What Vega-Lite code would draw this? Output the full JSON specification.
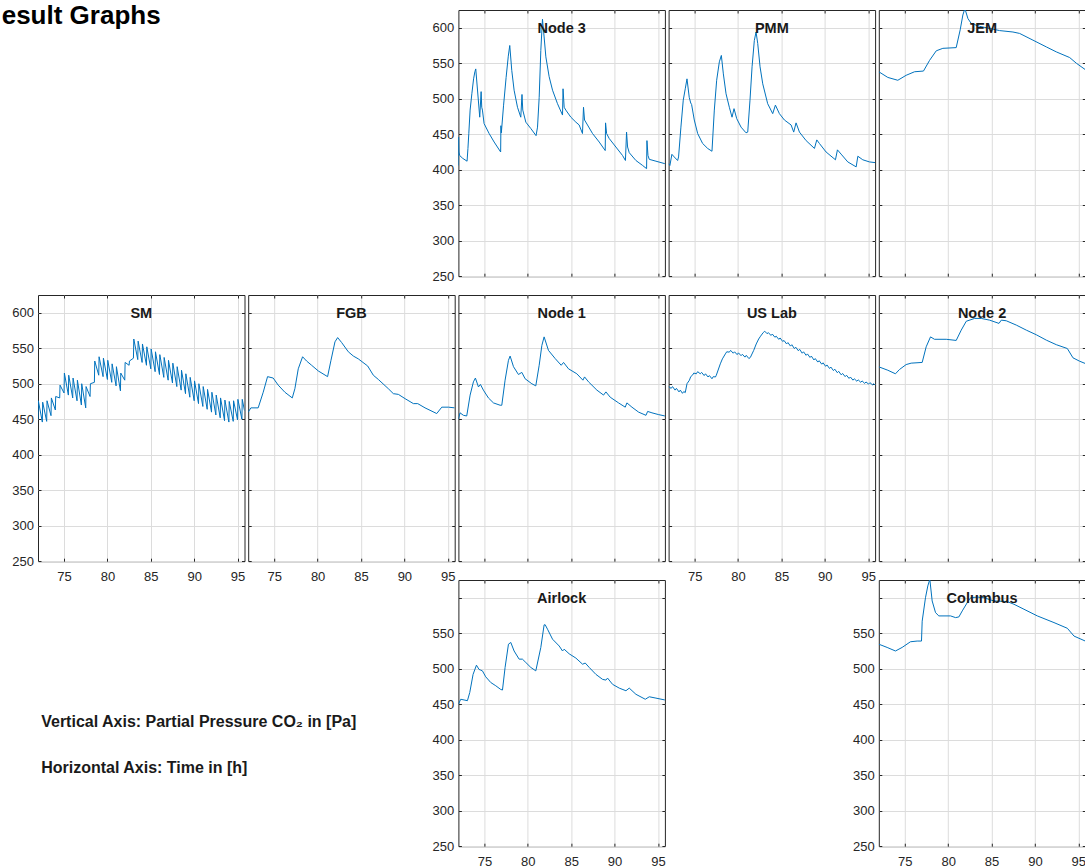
{
"$schema": "https://vega.github.io/schema/vega-lite/v6.json",
"padding": {"left": 1, "top": 2, "right": 0, "bottom": 0},
"config": {
  "font": "Liberation Sans",
  "view": {"stroke": null},
  "axis": {"grid": true, "gridColor": "#dcdcdc", "gridWidth": 1, "domain": false, "tickSize": -3, "tickColor": "#262626", "tickWidth": 1, "labelColor": "#262626", "labelFontSize": 13, "labelFont": "Liberation Sans", "labelFlush": false, "labelOverlap": false, "title": null},
  "axisX": {"labelPadding": 11.8},
  "axisY": {"labelPadding": 7.6},
  "title": {"font": "Liberation Sans", "fontSize": 14.5, "fontWeight": "bold", "color": "#1a1a1a", "anchor": "middle", "frame": "group", "baseline": "alphabetic", "offset": -27},
  "line": {"color": "#0072BD", "strokeWidth": 1}
},
"datasets": {
  "node3": [{"t":72.0,"p":406},{"t":72.02,"p":446},{"t":72.06,"p":425},{"t":72.15,"p":420},{"t":72.5,"p":416},{"t":73.0,"p":412},{"t":73.1,"p":430},{"t":73.2,"p":451},{"t":73.35,"p":484},{"t":73.55,"p":507},{"t":73.75,"p":528},{"t":73.9,"p":538},{"t":74.0,"p":542},{"t":74.46,"p":474},{"t":74.62,"p":510},{"t":74.69,"p":488},{"t":74.77,"p":484},{"t":74.96,"p":465},{"t":75.54,"p":451},{"t":76.12,"p":439},{"t":76.87,"p":425},{"t":76.9,"p":462},{"t":76.95,"p":452},{"t":77.2,"p":490},{"t":77.5,"p":530},{"t":77.75,"p":560},{"t":77.92,"p":575},{"t":78.15,"p":540},{"t":78.42,"p":512},{"t":78.81,"p":488},{"t":79.19,"p":474},{"t":79.33,"p":506},{"t":79.42,"p":484},{"t":79.77,"p":467},{"t":80.35,"p":458},{"t":80.95,"p":448},{"t":81.12,"p":460},{"t":81.31,"p":502},{"t":81.5,"p":568},{"t":81.69,"p":612},{"t":81.88,"p":587},{"t":82.08,"p":559},{"t":82.46,"p":531},{"t":82.85,"p":512},{"t":83.42,"p":493},{"t":84.0,"p":477},{"t":84.06,"p":514},{"t":84.19,"p":488},{"t":84.38,"p":484},{"t":84.96,"p":474},{"t":85.54,"p":467},{"t":85.92,"p":463},{"t":86.3,"p":451},{"t":86.42,"p":488},{"t":86.54,"p":470},{"t":86.88,"p":463},{"t":87.46,"p":451},{"t":88.23,"p":439},{"t":88.92,"p":427},{"t":88.96,"p":466},{"t":89.08,"p":451},{"t":89.38,"p":444},{"t":90.15,"p":432},{"t":90.92,"p":420},{"t":91.25,"p":413},{"t":91.38,"p":453},{"t":91.5,"p":432},{"t":91.69,"p":424},{"t":92.46,"p":413},{"t":93.23,"p":406},{"t":93.69,"p":401.5},{"t":93.73,"p":441},{"t":93.85,"p":420},{"t":94.0,"p":414.6},{"t":94.77,"p":412},{"t":95.8,"p":408.5}],
  "pmm": [{"t":72.0,"p":408.5},{"t":72.15,"p":406},{"t":72.38,"p":421.7},{"t":72.65,"p":418},{"t":73.04,"p":413},{"t":73.15,"p":418},{"t":73.42,"p":460},{"t":73.69,"p":498},{"t":73.92,"p":514},{"t":74.12,"p":528},{"t":74.38,"p":502},{"t":74.55,"p":494},{"t":74.65,"p":492},{"t":74.96,"p":470},{"t":75.35,"p":451},{"t":75.92,"p":437},{"t":76.5,"p":430},{"t":77.0,"p":426},{"t":77.27,"p":484},{"t":77.54,"p":526},{"t":77.85,"p":552},{"t":78.08,"p":561},{"t":78.31,"p":535},{"t":78.62,"p":507},{"t":79.0,"p":488},{"t":79.31,"p":474},{"t":79.54,"p":486},{"t":79.85,"p":472},{"t":80.35,"p":460},{"t":80.92,"p":452},{"t":81.12,"p":453},{"t":81.38,"p":498},{"t":81.62,"p":545},{"t":81.88,"p":582},{"t":82.08,"p":594},{"t":82.27,"p":578},{"t":82.54,"p":545},{"t":82.85,"p":521},{"t":83.42,"p":493},{"t":84.0,"p":479},{"t":84.31,"p":491},{"t":84.77,"p":479},{"t":85.35,"p":470},{"t":86.12,"p":463},{"t":86.42,"p":453},{"t":86.69,"p":466},{"t":87.08,"p":453},{"t":87.85,"p":441},{"t":88.81,"p":430},{"t":89.08,"p":442},{"t":89.38,"p":437},{"t":90.15,"p":425},{"t":91.23,"p":414},{"t":91.46,"p":428},{"t":91.88,"p":422},{"t":92.65,"p":411},{"t":93.62,"p":404},{"t":93.81,"p":419},{"t":94.38,"p":414},{"t":95.15,"p":411},{"t":95.8,"p":410}],
  "jem": [{"t":72.0,"p":538},{"t":73.04,"p":530},{"t":74.19,"p":526},{"t":75.15,"p":533},{"t":76.12,"p":538},{"t":77.15,"p":539},{"t":77.85,"p":554},{"t":78.62,"p":567.5},{"t":79.38,"p":571},{"t":80.92,"p":572},{"t":81.38,"p":597},{"t":81.69,"p":618},{"t":81.92,"p":627},{"t":82.27,"p":613},{"t":82.65,"p":606},{"t":83.62,"p":602},{"t":84.77,"p":599},{"t":85.92,"p":596},{"t":87.46,"p":594},{"t":88.23,"p":592},{"t":89.77,"p":582.5},{"t":91.31,"p":573},{"t":92.46,"p":566},{"t":94.0,"p":558},{"t":94.77,"p":550},{"t":95.8,"p":541}],
  "sm": [{"t":72.0,"p":450},{"t":72.04,"p":476},{"t":72.5,"p":446},{"t":72.54,"p":474},{"t":73.0,"p":447},{"t":73.04,"p":476},{"t":73.5,"p":455},{"t":73.54,"p":480},{"t":74.0,"p":463},{"t":74.04,"p":482},{"t":74.5,"p":480},{"t":74.54,"p":498},{"t":75.0,"p":487},{"t":75.04,"p":515},{"t":75.5,"p":484},{"t":75.54,"p":512},{"t":76.0,"p":480},{"t":76.04,"p":508},{"t":76.5,"p":476},{"t":76.54,"p":505},{"t":77.0,"p":470},{"t":77.04,"p":500},{"t":77.5,"p":466},{"t":77.54,"p":496},{"t":78.0,"p":482},{"t":78.04,"p":500},{"t":78.5,"p":502},{"t":78.54,"p":532},{"t":79.0,"p":512},{"t":79.04,"p":538},{"t":79.5,"p":510},{"t":79.54,"p":536},{"t":80.0,"p":506},{"t":80.04,"p":533},{"t":80.5,"p":502},{"t":80.54,"p":528},{"t":81.0,"p":497},{"t":81.04,"p":524},{"t":81.5,"p":490},{"t":81.54,"p":515},{"t":82.0,"p":505},{"t":82.04,"p":530},{"t":82.5,"p":526},{"t":82.54,"p":532},{"t":83.0,"p":536},{"t":83.04,"p":563},{"t":83.5,"p":534},{"t":83.54,"p":560},{"t":84.0,"p":530},{"t":84.04,"p":556},{"t":84.5,"p":526},{"t":84.54,"p":552},{"t":85.0,"p":521},{"t":85.04,"p":549},{"t":85.5,"p":517},{"t":85.54,"p":545},{"t":86.0,"p":513},{"t":86.04,"p":541},{"t":86.5,"p":509},{"t":86.54,"p":537},{"t":87.0,"p":505},{"t":87.04,"p":533},{"t":87.5,"p":501},{"t":87.54,"p":529},{"t":88.0,"p":496},{"t":88.04,"p":524},{"t":88.5,"p":491},{"t":88.54,"p":519},{"t":89.0,"p":486},{"t":89.04,"p":514},{"t":89.5,"p":481},{"t":89.54,"p":509},{"t":90.0,"p":476},{"t":90.04,"p":504},{"t":90.5,"p":472},{"t":90.54,"p":500},{"t":91.0,"p":468},{"t":91.04,"p":496},{"t":91.5,"p":464},{"t":91.54,"p":492},{"t":92.0,"p":460},{"t":92.04,"p":488},{"t":92.5,"p":456},{"t":92.54,"p":484},{"t":93.0,"p":452},{"t":93.04,"p":480},{"t":93.5,"p":448},{"t":93.54,"p":477},{"t":94.0,"p":446},{"t":94.04,"p":475},{"t":94.5,"p":447},{"t":94.54,"p":476},{"t":95.0,"p":449},{"t":95.04,"p":478},{"t":95.5,"p":450},{"t":95.54,"p":478},{"t":95.8,"p":462}],
  "fgb": [{"t":72.0,"p":460},{"t":72.31,"p":466},{"t":73.15,"p":466},{"t":73.73,"p":488},{"t":74.23,"p":510},{"t":74.88,"p":508},{"t":75.46,"p":498},{"t":76.23,"p":488},{"t":77.08,"p":480},{"t":77.38,"p":493},{"t":77.77,"p":521},{"t":78.27,"p":538},{"t":78.73,"p":532},{"t":79.31,"p":526},{"t":80.08,"p":518},{"t":81.15,"p":510},{"t":81.54,"p":533},{"t":82.0,"p":559},{"t":82.31,"p":565},{"t":82.77,"p":558},{"t":83.54,"p":545},{"t":84.12,"p":539},{"t":84.69,"p":535},{"t":85.77,"p":525},{"t":86.42,"p":512},{"t":87.0,"p":506},{"t":88.15,"p":493},{"t":88.73,"p":486},{"t":89.31,"p":485},{"t":90.08,"p":479},{"t":91.04,"p":472},{"t":91.54,"p":472},{"t":92.38,"p":466},{"t":93.73,"p":458},{"t":94.31,"p":467},{"t":95.08,"p":467},{"t":95.8,"p":466}],
  "node1": [{"t":72.0,"p":450},{"t":72.19,"p":459},{"t":72.58,"p":455.5},{"t":72.96,"p":454.6},{"t":73.35,"p":484},{"t":73.73,"p":502.6},{"t":73.96,"p":508},{"t":74.31,"p":495.5},{"t":74.54,"p":499},{"t":74.88,"p":491},{"t":75.46,"p":480},{"t":76.04,"p":473},{"t":76.81,"p":469.7},{"t":77.0,"p":469.7},{"t":77.38,"p":505},{"t":77.77,"p":533},{"t":77.96,"p":539},{"t":78.35,"p":524},{"t":78.92,"p":513},{"t":79.31,"p":516},{"t":79.69,"p":507},{"t":80.46,"p":500},{"t":80.92,"p":497},{"t":81.31,"p":526},{"t":81.62,"p":554},{"t":81.88,"p":566},{"t":82.38,"p":547},{"t":83.15,"p":535.5},{"t":83.85,"p":526},{"t":84.12,"p":530},{"t":84.69,"p":521},{"t":85.65,"p":514},{"t":86.35,"p":505},{"t":86.54,"p":509.6},{"t":87.0,"p":502.6},{"t":87.96,"p":491},{"t":88.73,"p":484},{"t":89.0,"p":488.5},{"t":89.5,"p":481},{"t":90.46,"p":473},{"t":91.23,"p":467},{"t":91.42,"p":473},{"t":92.0,"p":467},{"t":92.77,"p":460},{"t":93.62,"p":455.5},{"t":93.81,"p":461},{"t":94.31,"p":459},{"t":95.08,"p":456.5},{"t":95.8,"p":454.6}],
  "uslab": [{"t":72.0,"p":496},{"t":72.3,"p":493.5},{"t":72.45,"p":496},{"t":72.75,"p":491},{"t":72.9,"p":493.5},{"t":73.2,"p":488.5},{"t":73.35,"p":491},{"t":73.6,"p":486.5},{"t":73.75,"p":489},{"t":73.92,"p":487.5},{"t":74.12,"p":500},{"t":74.4,"p":505},{"t":74.55,"p":510},{"t":74.75,"p":512},{"t":74.9,"p":515},{"t":75.2,"p":514},{"t":75.35,"p":517},{"t":75.65,"p":514},{"t":75.8,"p":516},{"t":76.1,"p":511.5},{"t":76.25,"p":514},{"t":76.55,"p":509.5},{"t":76.7,"p":511.5},{"t":77.0,"p":507},{"t":77.15,"p":510},{"t":77.4,"p":509.5},{"t":77.5,"p":512},{"t":77.96,"p":528},{"t":78.2,"p":535},{"t":78.54,"p":542},{"t":78.7,"p":545},{"t":79.0,"p":544.5},{"t":79.15,"p":547},{"t":79.45,"p":543},{"t":79.6,"p":545},{"t":79.9,"p":541},{"t":80.05,"p":543.5},{"t":80.35,"p":539.5},{"t":80.5,"p":541.5},{"t":80.8,"p":537.5},{"t":80.95,"p":540},{"t":81.25,"p":535.5},{"t":81.42,"p":537},{"t":81.81,"p":547},{"t":82.1,"p":556},{"t":82.38,"p":563},{"t":82.6,"p":567},{"t":82.9,"p":572},{"t":83.08,"p":574},{"t":83.35,"p":570.5},{"t":83.5,"p":572},{"t":83.8,"p":568},{"t":83.95,"p":570},{"t":84.25,"p":565.5},{"t":84.4,"p":567},{"t":84.7,"p":562.5},{"t":84.85,"p":564.5},{"t":85.15,"p":559.5},{"t":85.3,"p":561},{"t":85.6,"p":556},{"t":85.75,"p":558},{"t":86.05,"p":553},{"t":86.2,"p":555},{"t":86.5,"p":549.5},{"t":86.65,"p":551.5},{"t":86.95,"p":546.5},{"t":87.1,"p":548.5},{"t":87.4,"p":543},{"t":87.55,"p":545},{"t":87.85,"p":540},{"t":88.0,"p":542},{"t":88.3,"p":537},{"t":88.45,"p":539},{"t":88.75,"p":533.5},{"t":88.9,"p":535.5},{"t":89.2,"p":530.5},{"t":89.35,"p":532.5},{"t":89.65,"p":527.5},{"t":89.8,"p":529.5},{"t":90.1,"p":524.5},{"t":90.25,"p":526.5},{"t":90.55,"p":521.5},{"t":90.7,"p":523.5},{"t":91.0,"p":518.5},{"t":91.15,"p":520.5},{"t":91.45,"p":515.5},{"t":91.6,"p":517.5},{"t":91.9,"p":512.5},{"t":92.05,"p":514.5},{"t":92.35,"p":510},{"t":92.5,"p":512},{"t":92.8,"p":507.5},{"t":92.95,"p":509.5},{"t":93.25,"p":505},{"t":93.4,"p":507},{"t":93.7,"p":503.5},{"t":93.85,"p":505.5},{"t":94.15,"p":502},{"t":94.3,"p":504},{"t":94.6,"p":500.5},{"t":94.75,"p":502.5},{"t":95.05,"p":499.5},{"t":95.2,"p":501.5},{"t":95.5,"p":498.5},{"t":95.65,"p":500},{"t":95.8,"p":498}],
  "node2": [{"t":72.0,"p":523.8},{"t":73.04,"p":519},{"t":73.92,"p":514},{"t":74.38,"p":520},{"t":75.15,"p":527},{"t":75.73,"p":529},{"t":77.0,"p":530},{"t":77.46,"p":552},{"t":77.96,"p":566},{"t":78.42,"p":562.6},{"t":79.77,"p":562.6},{"t":80.92,"p":561},{"t":81.5,"p":575.5},{"t":82.08,"p":588},{"t":83.04,"p":592},{"t":83.81,"p":592},{"t":84.77,"p":589.6},{"t":85.85,"p":585},{"t":86.12,"p":589.6},{"t":86.69,"p":588.7},{"t":87.85,"p":582.6},{"t":89.0,"p":575.5},{"t":90.15,"p":569},{"t":91.31,"p":561.4},{"t":92.46,"p":555},{"t":93.73,"p":549.6},{"t":94.38,"p":536.5},{"t":95.15,"p":531.7},{"t":95.8,"p":528.5}],
  "airlock": [{"t":72.0,"p":450},{"t":72.27,"p":457},{"t":72.65,"p":456},{"t":73.04,"p":455},{"t":73.31,"p":466.6},{"t":73.69,"p":492},{"t":74.08,"p":505},{"t":74.38,"p":499},{"t":74.58,"p":498},{"t":74.77,"p":497},{"t":75.15,"p":488.6},{"t":75.73,"p":480.6},{"t":76.31,"p":476},{"t":76.88,"p":470.8},{"t":77.08,"p":470},{"t":77.38,"p":501.8},{"t":77.77,"p":534.6},{"t":78.04,"p":537},{"t":78.42,"p":525},{"t":79.0,"p":513.5},{"t":79.38,"p":513.5},{"t":79.77,"p":508.8},{"t":80.35,"p":501.8},{"t":80.92,"p":497},{"t":81.5,"p":530},{"t":81.88,"p":561.8},{"t":82.0,"p":562},{"t":82.27,"p":555.7},{"t":82.85,"p":541.6},{"t":83.62,"p":532},{"t":84.0,"p":525},{"t":84.19,"p":527.5},{"t":84.77,"p":521},{"t":85.54,"p":515},{"t":86.31,"p":506.4},{"t":86.62,"p":508},{"t":87.08,"p":501.8},{"t":87.85,"p":492},{"t":88.62,"p":485},{"t":89.0,"p":484},{"t":89.19,"p":486.8},{"t":89.77,"p":478},{"t":90.54,"p":472.7},{"t":91.31,"p":469},{"t":91.69,"p":472.7},{"t":92.46,"p":464},{"t":93.54,"p":457},{"t":94.0,"p":460.5},{"t":94.77,"p":458.6},{"t":95.8,"p":456}],
  "columbus": [{"t":72.0,"p":534.6},{"t":72.96,"p":530},{"t":73.92,"p":525},{"t":74.69,"p":530},{"t":75.65,"p":538},{"t":76.42,"p":539},{"t":76.92,"p":539},{"t":77.0,"p":567},{"t":77.38,"p":600},{"t":77.65,"p":616.6},{"t":77.88,"p":626},{"t":78.15,"p":595.5},{"t":78.54,"p":579},{"t":78.92,"p":574.4},{"t":80.27,"p":574.4},{"t":80.85,"p":572},{"t":81.23,"p":573},{"t":81.62,"p":581.5},{"t":82.19,"p":593},{"t":82.58,"p":600},{"t":83.35,"p":601},{"t":84.12,"p":600},{"t":85.27,"p":595.5},{"t":86.81,"p":594.6},{"t":87.58,"p":590.8},{"t":88.73,"p":583.8},{"t":90.27,"p":574.4},{"t":92.19,"p":565},{"t":93.73,"p":557},{"t":94.5,"p":546},{"t":95.8,"p":539}]
},
"columns": 5,
"bounds": "flush",
"spacing": {"row": 18, "column": 3.2},
"concat": [
  {"width": 206.5, "height": 266.2, "data": {"values": [{}]}, "mark": {"type": "text", "text": ""},
   "title": {"text": "esult Graphs", "anchor": "start", "fontSize": 26, "color": "#000000", "dx": -36.3, "offset": -18.5}},
  {"width": 206.5, "height": 266.2, "data": {"values": [{}]}, "mark": {"type": "text", "text": ""}},
  {"title": "Node 3", "data": {"name": "node3"}, "width": 206.5, "height": 266.2, "view": {"stroke": "#262626"},
   "layer": [
    {"mark": {"type": "line", "clip": true}, "encoding": {
      "x": {"field": "t", "type": "quantitative", "scale": {"domain": [72, 95.8], "nice": false, "zero": false}, "axis": {"orient": "bottom", "labels": false, "values": [75, 80, 85, 90, 95]}},
      "y": {"field": "p", "type": "quantitative", "scale": {"domain": [250, 625], "nice": false, "zero": false}, "axis": {"orient": "left", "labels": true, "values": [250, 300, 350, 400, 450, 500, 550, 600]}}}},
    {"mark": {"type": "line", "clip": true, "opacity": 0}, "encoding": {
      "x": {"field": "t", "type": "quantitative", "scale": {"domain": [72, 95.8], "nice": false, "zero": false}, "axis": {"orient": "top", "labels": false, "grid": false, "values": [75, 80, 85, 90, 95]}},
      "y": {"field": "p", "type": "quantitative", "scale": {"domain": [250, 625], "nice": false, "zero": false}, "axis": {"orient": "right", "labels": false, "grid": false, "values": [250, 300, 350, 400, 450, 500, 550, 600]}}}}],
   "resolve": {"axis": {"x": "independent", "y": "independent"}}},
  {"title": "PMM", "data": {"name": "pmm"}, "width": 206.5, "height": 266.2, "view": {"stroke": "#262626"},
   "layer": [
    {"mark": {"type": "line", "clip": true}, "encoding": {
      "x": {"field": "t", "type": "quantitative", "scale": {"domain": [72, 95.8], "nice": false, "zero": false}, "axis": {"orient": "bottom", "labels": false, "values": [75, 80, 85, 90, 95]}},
      "y": {"field": "p", "type": "quantitative", "scale": {"domain": [250, 625], "nice": false, "zero": false}, "axis": {"orient": "left", "labels": false, "values": [250, 300, 350, 400, 450, 500, 550, 600]}}}},
    {"mark": {"type": "line", "clip": true, "opacity": 0}, "encoding": {
      "x": {"field": "t", "type": "quantitative", "scale": {"domain": [72, 95.8], "nice": false, "zero": false}, "axis": {"orient": "top", "labels": false, "grid": false, "values": [75, 80, 85, 90, 95]}},
      "y": {"field": "p", "type": "quantitative", "scale": {"domain": [250, 625], "nice": false, "zero": false}, "axis": {"orient": "right", "labels": false, "grid": false, "values": [250, 300, 350, 400, 450, 500, 550, 600]}}}}],
   "resolve": {"axis": {"x": "independent", "y": "independent"}}},
  {"title": "JEM", "data": {"name": "jem"}, "width": 206.5, "height": 266.2, "view": {"stroke": "#262626"},
   "layer": [
    {"mark": {"type": "line", "clip": true}, "encoding": {
      "x": {"field": "t", "type": "quantitative", "scale": {"domain": [72, 95.8], "nice": false, "zero": false}, "axis": {"orient": "bottom", "labels": false, "values": [75, 80, 85, 90, 95]}},
      "y": {"field": "p", "type": "quantitative", "scale": {"domain": [250, 625], "nice": false, "zero": false}, "axis": {"orient": "left", "labels": false, "values": [250, 300, 350, 400, 450, 500, 550, 600]}}}},
    {"mark": {"type": "line", "clip": true, "opacity": 0}, "encoding": {
      "x": {"field": "t", "type": "quantitative", "scale": {"domain": [72, 95.8], "nice": false, "zero": false}, "axis": {"orient": "top", "labels": false, "grid": false, "values": [75, 80, 85, 90, 95]}},
      "y": {"field": "p", "type": "quantitative", "scale": {"domain": [250, 625], "nice": false, "zero": false}, "axis": {"orient": "right", "labels": false, "grid": false, "values": [250, 300, 350, 400, 450, 500, 550, 600]}}}}],
   "resolve": {"axis": {"x": "independent", "y": "independent"}}},
  {"title": "SM", "data": {"name": "sm"}, "width": 206.5, "height": 266.2, "view": {"stroke": "#262626"},
   "layer": [
    {"mark": {"type": "line", "clip": true}, "encoding": {
      "x": {"field": "t", "type": "quantitative", "scale": {"domain": [72, 95.8], "nice": false, "zero": false}, "axis": {"orient": "bottom", "labels": true, "values": [75, 80, 85, 90, 95]}},
      "y": {"field": "p", "type": "quantitative", "scale": {"domain": [250, 625], "nice": false, "zero": false}, "axis": {"orient": "left", "labels": true, "values": [250, 300, 350, 400, 450, 500, 550, 600]}}}},
    {"mark": {"type": "line", "clip": true, "opacity": 0}, "encoding": {
      "x": {"field": "t", "type": "quantitative", "scale": {"domain": [72, 95.8], "nice": false, "zero": false}, "axis": {"orient": "top", "labels": false, "grid": false, "values": [75, 80, 85, 90, 95]}},
      "y": {"field": "p", "type": "quantitative", "scale": {"domain": [250, 625], "nice": false, "zero": false}, "axis": {"orient": "right", "labels": false, "grid": false, "values": [250, 300, 350, 400, 450, 500, 550, 600]}}}}],
   "resolve": {"axis": {"x": "independent", "y": "independent"}}},
  {"title": "FGB", "data": {"name": "fgb"}, "width": 206.5, "height": 266.2, "view": {"stroke": "#262626"},
   "layer": [
    {"mark": {"type": "line", "clip": true}, "encoding": {
      "x": {"field": "t", "type": "quantitative", "scale": {"domain": [72, 95.8], "nice": false, "zero": false}, "axis": {"orient": "bottom", "labels": true, "values": [75, 80, 85, 90, 95]}},
      "y": {"field": "p", "type": "quantitative", "scale": {"domain": [250, 625], "nice": false, "zero": false}, "axis": {"orient": "left", "labels": false, "values": [250, 300, 350, 400, 450, 500, 550, 600]}}}},
    {"mark": {"type": "line", "clip": true, "opacity": 0}, "encoding": {
      "x": {"field": "t", "type": "quantitative", "scale": {"domain": [72, 95.8], "nice": false, "zero": false}, "axis": {"orient": "top", "labels": false, "grid": false, "values": [75, 80, 85, 90, 95]}},
      "y": {"field": "p", "type": "quantitative", "scale": {"domain": [250, 625], "nice": false, "zero": false}, "axis": {"orient": "right", "labels": false, "grid": false, "values": [250, 300, 350, 400, 450, 500, 550, 600]}}}}],
   "resolve": {"axis": {"x": "independent", "y": "independent"}}},
  {"title": "Node 1", "data": {"name": "node1"}, "width": 206.5, "height": 266.2, "view": {"stroke": "#262626"},
   "layer": [
    {"mark": {"type": "line", "clip": true}, "encoding": {
      "x": {"field": "t", "type": "quantitative", "scale": {"domain": [72, 95.8], "nice": false, "zero": false}, "axis": {"orient": "bottom", "labels": false, "values": [75, 80, 85, 90, 95]}},
      "y": {"field": "p", "type": "quantitative", "scale": {"domain": [250, 625], "nice": false, "zero": false}, "axis": {"orient": "left", "labels": false, "values": [250, 300, 350, 400, 450, 500, 550, 600]}}}},
    {"mark": {"type": "line", "clip": true, "opacity": 0}, "encoding": {
      "x": {"field": "t", "type": "quantitative", "scale": {"domain": [72, 95.8], "nice": false, "zero": false}, "axis": {"orient": "top", "labels": false, "grid": false, "values": [75, 80, 85, 90, 95]}},
      "y": {"field": "p", "type": "quantitative", "scale": {"domain": [250, 625], "nice": false, "zero": false}, "axis": {"orient": "right", "labels": false, "grid": false, "values": [250, 300, 350, 400, 450, 500, 550, 600]}}}}],
   "resolve": {"axis": {"x": "independent", "y": "independent"}}},
  {"title": "US Lab", "data": {"name": "uslab"}, "width": 206.5, "height": 266.2, "view": {"stroke": "#262626"},
   "layer": [
    {"mark": {"type": "line", "clip": true}, "encoding": {
      "x": {"field": "t", "type": "quantitative", "scale": {"domain": [72, 95.8], "nice": false, "zero": false}, "axis": {"orient": "bottom", "labels": true, "values": [75, 80, 85, 90, 95]}},
      "y": {"field": "p", "type": "quantitative", "scale": {"domain": [250, 625], "nice": false, "zero": false}, "axis": {"orient": "left", "labels": false, "values": [250, 300, 350, 400, 450, 500, 550, 600]}}}},
    {"mark": {"type": "line", "clip": true, "opacity": 0}, "encoding": {
      "x": {"field": "t", "type": "quantitative", "scale": {"domain": [72, 95.8], "nice": false, "zero": false}, "axis": {"orient": "top", "labels": false, "grid": false, "values": [75, 80, 85, 90, 95]}},
      "y": {"field": "p", "type": "quantitative", "scale": {"domain": [250, 625], "nice": false, "zero": false}, "axis": {"orient": "right", "labels": false, "grid": false, "values": [250, 300, 350, 400, 450, 500, 550, 600]}}}}],
   "resolve": {"axis": {"x": "independent", "y": "independent"}}},
  {"title": "Node 2", "data": {"name": "node2"}, "width": 206.5, "height": 266.2, "view": {"stroke": "#262626"},
   "layer": [
    {"mark": {"type": "line", "clip": true}, "encoding": {
      "x": {"field": "t", "type": "quantitative", "scale": {"domain": [72, 95.8], "nice": false, "zero": false}, "axis": {"orient": "bottom", "labels": false, "values": [75, 80, 85, 90, 95]}},
      "y": {"field": "p", "type": "quantitative", "scale": {"domain": [250, 625], "nice": false, "zero": false}, "axis": {"orient": "left", "labels": false, "values": [250, 300, 350, 400, 450, 500, 550, 600]}}}},
    {"mark": {"type": "line", "clip": true, "opacity": 0}, "encoding": {
      "x": {"field": "t", "type": "quantitative", "scale": {"domain": [72, 95.8], "nice": false, "zero": false}, "axis": {"orient": "top", "labels": false, "grid": false, "values": [75, 80, 85, 90, 95]}},
      "y": {"field": "p", "type": "quantitative", "scale": {"domain": [250, 625], "nice": false, "zero": false}, "axis": {"orient": "right", "labels": false, "grid": false, "values": [250, 300, 350, 400, 450, 500, 550, 600]}}}}],
   "resolve": {"axis": {"x": "independent", "y": "independent"}}},
  {"width": 206.5, "height": 266.2, "data": {"values": [{}]}, "mark": {"type": "text", "text": ""},
   "title": {"text": ["Vertical Axis: Partial Pressure CO₂ in [Pa]", "Horizontal Axis: Time in [h]"], "anchor": "start", "fontSize": 16, "color": "#1a1a1a", "lineHeight": 46, "dx": 3.2, "offset": -196}},
  {"width": 206.5, "height": 266.2, "data": {"values": [{}]}, "mark": {"type": "text", "text": ""}},
  {"title": "Airlock", "data": {"name": "airlock"}, "width": 206.5, "height": 266.2, "view": {"stroke": "#262626"},
   "layer": [
    {"mark": {"type": "line", "clip": true}, "encoding": {
      "x": {"field": "t", "type": "quantitative", "scale": {"domain": [72, 95.8], "nice": false, "zero": false}, "axis": {"orient": "bottom", "labels": true, "values": [75, 80, 85, 90, 95]}},
      "y": {"field": "p", "type": "quantitative", "scale": {"domain": [250, 625], "nice": false, "zero": false}, "axis": {"orient": "left", "labels": true, "labelExpr": "datum.value == 600 ? '' : datum.label", "values": [250, 300, 350, 400, 450, 500, 550, 600]}}}},
    {"mark": {"type": "line", "clip": true, "opacity": 0}, "encoding": {
      "x": {"field": "t", "type": "quantitative", "scale": {"domain": [72, 95.8], "nice": false, "zero": false}, "axis": {"orient": "top", "labels": false, "grid": false, "values": [75, 80, 85, 90, 95]}},
      "y": {"field": "p", "type": "quantitative", "scale": {"domain": [250, 625], "nice": false, "zero": false}, "axis": {"orient": "right", "labels": false, "grid": false, "values": [250, 300, 350, 400, 450, 500, 550, 600]}}}}],
   "resolve": {"axis": {"x": "independent", "y": "independent"}}},
  {"width": 206.5, "height": 266.2, "data": {"values": [{}]}, "mark": {"type": "text", "text": ""}},
  {"title": "Columbus", "data": {"name": "columbus"}, "width": 206.5, "height": 266.2, "view": {"stroke": "#262626"},
   "layer": [
    {"mark": {"type": "line", "clip": true}, "encoding": {
      "x": {"field": "t", "type": "quantitative", "scale": {"domain": [72, 95.8], "nice": false, "zero": false}, "axis": {"orient": "bottom", "labels": true, "values": [75, 80, 85, 90, 95]}},
      "y": {"field": "p", "type": "quantitative", "scale": {"domain": [250, 625], "nice": false, "zero": false}, "axis": {"orient": "left", "labels": true, "labelExpr": "datum.value == 600 ? '' : datum.label", "values": [250, 300, 350, 400, 450, 500, 550, 600]}}}},
    {"mark": {"type": "line", "clip": true, "opacity": 0}, "encoding": {
      "x": {"field": "t", "type": "quantitative", "scale": {"domain": [72, 95.8], "nice": false, "zero": false}, "axis": {"orient": "top", "labels": false, "grid": false, "values": [75, 80, 85, 90, 95]}},
      "y": {"field": "p", "type": "quantitative", "scale": {"domain": [250, 625], "nice": false, "zero": false}, "axis": {"orient": "right", "labels": false, "grid": false, "values": [250, 300, 350, 400, 450, 500, 550, 600]}}}}],
   "resolve": {"axis": {"x": "independent", "y": "independent"}}}
]
}
